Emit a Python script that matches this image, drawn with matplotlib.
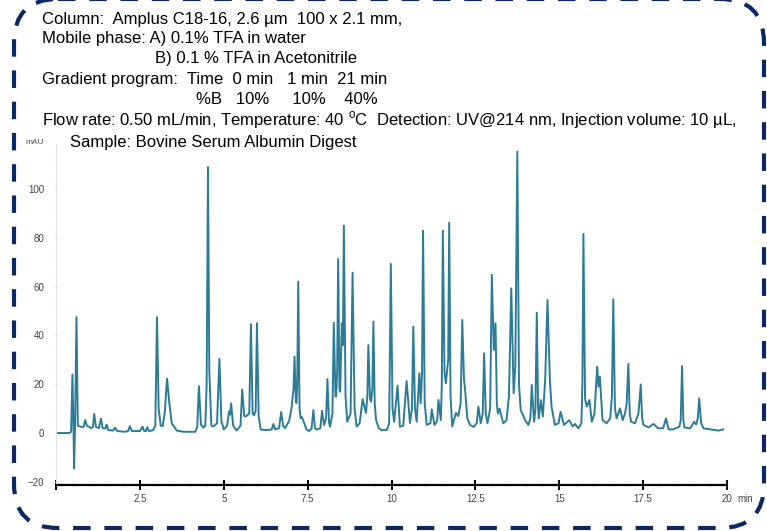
import matplotlib
matplotlib.use("Agg")
import matplotlib.pyplot as plt
from matplotlib.patches import FancyBboxPatch
from matplotlib.ticker import MultipleLocator
import matplotlib.transforms as mtransforms

plt.rcParams['font.family'] = ['Liberation Sans', 'DejaVu Sans']
plt.rcParams['mathtext.fontset'] = 'custom'
plt.rcParams['mathtext.rm'] = 'Liberation Sans'

# chromatogram trace, vertices (min, mAU)
time_min = [
    0.00, 0.40, 0.45, 0.49, 0.52, 0.54, 0.57, 0.61, 0.65, 0.75,
    0.82, 0.87, 0.92, 1.05, 1.10, 1.14, 1.19, 1.28, 1.34, 1.39,
    1.47, 1.51, 1.56, 1.70, 1.76, 1.82, 2.05, 2.15, 2.20, 2.26,
    2.50, 2.58, 2.63, 2.68, 2.72, 2.77, 2.90, 2.96, 3.01, 3.06,
    3.12, 3.18, 3.24, 3.31, 3.38, 3.45, 3.60, 3.80, 4.15, 4.21,
    4.26, 4.32, 4.39, 4.45, 4.49, 4.53, 4.57, 4.63, 4.70, 4.80,
    4.87, 4.93, 5.00, 5.10, 5.16, 5.19, 5.22, 5.28, 5.38, 5.50,
    5.55, 5.61, 5.66, 5.76, 5.81, 5.86, 5.90, 5.95, 5.99, 6.04,
    6.10, 6.30, 6.43, 6.48, 6.53, 6.65, 6.71, 6.77, 6.83, 6.95,
    7.02, 7.08, 7.11, 7.15, 7.17, 7.19, 7.22, 7.26, 7.29, 7.33,
    7.47, 7.55, 7.62, 7.67, 7.72, 7.77, 7.88, 7.93, 7.99, 8.05,
    8.09, 8.14, 8.17, 8.24, 8.28, 8.33, 8.35, 8.38, 8.41, 8.45,
    8.47, 8.52, 8.55, 8.58, 8.63, 8.68, 8.78, 8.84, 8.90, 8.96,
    9.05, 9.14, 9.24, 9.28, 9.31, 9.36, 9.39, 9.43, 9.46, 9.50,
    9.54, 9.62, 9.70, 9.86, 9.93, 9.98, 10.03, 10.08, 10.18, 10.25,
    10.35, 10.45, 10.55, 10.61, 10.65, 10.70, 10.75, 10.83, 10.87, 10.91,
    10.94, 10.99, 11.05, 11.16, 11.20, 11.28, 11.36, 11.40, 11.47, 11.50,
    11.53, 11.58, 11.62, 11.69, 11.72, 11.76, 11.81, 11.92, 11.99, 12.06,
    12.11, 12.16, 12.19, 12.26, 12.34, 12.45, 12.54, 12.59, 12.66, 12.72,
    12.76, 12.81, 12.86, 12.94, 12.99, 13.05, 13.10, 13.14, 13.17, 13.22,
    13.33, 13.43, 13.50, 13.57, 13.64, 13.69, 13.75, 13.80, 13.85, 13.90,
    13.98, 14.08, 14.14, 14.18, 14.25, 14.29, 14.33, 14.37, 14.39, 14.45,
    14.51, 14.58, 14.65, 14.72, 14.77, 14.87, 14.98, 15.04, 15.14, 15.30,
    15.40, 15.47, 15.57, 15.66, 15.69, 15.72, 15.77, 15.82, 15.90, 15.97,
    16.05, 16.13, 16.17, 16.21, 16.29, 16.41, 16.52, 16.57, 16.61, 16.66,
    16.71, 16.81, 16.89, 16.96, 17.01, 17.06, 17.10, 17.14, 17.26, 17.36,
    17.43, 17.47, 17.51, 17.66, 17.81, 17.95, 18.10, 18.18, 18.26, 18.40,
    18.58, 18.62, 18.66, 18.70, 18.73, 18.90, 19.02, 19.08, 19.13, 19.17,
    19.23, 19.30, 19.55, 19.75, 19.89,
]
signal_mau = [
    0.0, 0.0, 0.5, 24.0, 3.0, -14.5, 5.0, 47.5, 3.0, 2.5,
    2.5, 5.3, 3.0, 2.0, 2.5, 7.8, 2.5, 2.0, 5.9, 2.0,
    1.8, 3.4, 1.2, 1.0, 2.2, 0.8, 0.5, 0.8, 2.8, 0.8,
    0.8, 2.6, 0.8, 0.8, 2.4, 0.8, 1.2, 3.0, 47.5, 10.0,
    3.0, 2.8, 8.0, 22.3, 12.0, 4.0, 1.0, 0.5, 0.5, 2.5,
    19.2, 3.5, 2.2, 3.0, 20.0, 109.0, 25.0, 3.0, 2.8, 4.0,
    30.4, 5.0, 1.4, 3.0, 8.9, 7.5, 12.1, 3.0, 1.0, 3.0,
    17.8, 7.0, 6.8, 8.0, 44.6, 8.0, 7.2, 9.0, 45.0, 7.0,
    1.4, 1.2, 1.5, 3.7, 1.5, 2.0, 8.6, 3.0, 2.0, 5.0,
    10.2, 18.0, 31.3, 13.0, 12.3, 20.0, 62.0, 10.0, 6.1, 6.5,
    1.4, 0.8, 2.0, 9.4, 2.0, 1.4, 2.0, 9.1, 3.3, 6.0,
    22.1, 4.0, 2.6, 8.0, 45.2, 15.0, 14.9, 25.0, 71.3, 18.0,
    16.9, 45.0, 36.0, 85.0, 15.0, 4.6, 8.0, 65.7, 10.0, 2.6,
    4.0, 13.9, 8.2, 15.0, 36.0, 14.0, 12.8, 18.0, 45.6, 12.0,
    5.3, 2.0, 1.2, 1.2, 4.0, 69.3, 10.0, 4.6, 19.4, 2.6,
    3.0, 21.3, 4.1, 10.0, 43.6, 10.0, 4.6, 24.5, 12.2, 25.0,
    82.9, 12.0, 3.3, 4.0, 9.7, 3.3, 5.0, 13.5, 5.3, 20.0,
    82.9, 25.0, 20.4, 30.0, 86.2, 15.0, 2.7, 8.2, 6.9, 12.0,
    46.3, 22.0, 18.3, 6.0, 3.3, 2.5, 4.0, 10.8, 4.0, 8.0,
    32.7, 8.0, 4.0, 10.0, 64.8, 34.0, 45.0, 12.0, 8.0, 10.0,
    4.0, 5.3, 15.0, 59.3, 16.3, 27.2, 115.3, 20.0, 9.4, 8.0,
    5.3, 3.3, 6.0, 19.7, 4.6, 10.0, 49.3, 10.0, 6.0, 13.5,
    6.7, 21.7, 54.5, 22.0, 10.8, 3.3, 4.0, 8.7, 3.3, 5.3,
    2.7, 3.7, 1.9, 4.0, 20.0, 81.6, 14.0, 10.8, 13.5, 4.6,
    8.0, 27.2, 19.0, 23.1, 5.3, 4.0, 6.0, 15.0, 54.8, 10.0,
    6.0, 10.1, 5.3, 8.0, 12.0, 28.3, 8.0, 4.6, 4.0, 8.0,
    19.9, 6.0, 3.3, 2.3, 3.7, 1.9, 2.0, 6.0, 1.5, 1.5,
    2.6, 5.0, 27.4, 5.0, 2.3, 1.9, 4.6, 3.5, 6.0, 14.2,
    4.0, 1.9, 1.4, 1.0, 1.5,
]

x_ticks = [0, 2.5, 5, 7.5, 10, 12.5, 15, 17.5, 20]
x_labels = ["", "2.5", "5", "7.5", "10", "12.5", "15", "17.5", "20"]
y_ticks = [-20, 0, 20, 40, 60, 80, 100]

# header text: (x px, baseline y px, text)
header_lines = [
    (42, 24, "Column:  Amplus C18-16, 2.6 µm  100 x 2.1 mm,"),
    (42, 43, "Mobile phase: A) 0.1% TFA in water"),
    (155, 63, "B) 0.1 % TFA in Acetonitrile"),
    (42, 84, "Gradient program:  Time  0 min   1 min  21 min"),
    (196, 104, "%B   10%     10%    40%"),
    (42, 125, "Flow rate: 0.50 mL/min, Temperature: 40 $^{\\mathrm{o}}$C  "
              "Detection: UV@214 nm, Injection volume: 10 µL,"),
    (70, 147, "Sample: Bovine Serum Albumin Digest"),
]

W, H = 767, 531
fig = plt.figure(figsize=(W / 100, H / 100), dpi=100)

# background layer in pixel coords for the frame and the header text
bg = fig.add_axes([0, 0, 1, 1])
bg.set_xlim(0, W)
bg.set_ylim(H, 0)
bg.axis("off")

frame = FancyBboxPatch((14, -1), 750, 529,
                       boxstyle="round,pad=0,rounding_size=44",
                       fill=False, ec="#0b2864", lw=3,
                       ls=(0, (4.2, 3.3)), zorder=1)
bg.add_patch(frame)

for x, y, s in header_lines:
    bg.text(x, y, s, fontsize=12, va="baseline", ha="left", color="black")

bg.text(25, 143, "mAU", fontsize=6, color="#555555", va="center")

# chromatogram
ax = fig.add_axes([56 / W, 46 / H, 671 / W, 340 / H])
ax.patch.set_alpha(0)
ax.plot(time_min, signal_mau, color="#2c7c97", lw=1.4, solid_joinstyle="round")

ax.set_xlim(0, 20)
ax.set_ylim(-21.3, 118)

ax.spines["top"].set_visible(False)
ax.spines["right"].set_visible(False)
ax.spines["bottom"].set_linewidth(1.6)
ax.spines["bottom"].set_color("black")
ax.spines["left"].set_color("#e4e4e4")
ax.spines["left"].set_linewidth(0.8)

ax.set_xticks(x_ticks)
ax.set_xticklabels(x_labels)
ax.xaxis.set_minor_locator(MultipleLocator(0.5))
ax.tick_params(axis="x", which="major", direction="inout", length=7, width=1.4,
               color="black", labelsize=7, labelcolor="#444444", pad=3)
ax.tick_params(axis="x", which="minor", direction="inout", length=3, width=0.6,
               color="#dddddd")

ax.set_yticks(y_ticks)
ax.yaxis.set_minor_locator(MultipleLocator(5))
ax.tick_params(axis="y", which="major", direction="inout", length=3, width=0.6,
               color="#dddddd", labelsize=7, labelcolor="#444444", pad=7)
ax.tick_params(axis="y", which="minor", direction="inout", length=2, width=0.5,
               color="#e8e8e8")

trans = mtransforms.blended_transform_factory(ax.transData, ax.transAxes)
ax.text(20.3, -0.027, "min", transform=trans, fontsize=7, color="#444444",
        ha="left", va="top")

fig.savefig("out.png", dpi=100)
